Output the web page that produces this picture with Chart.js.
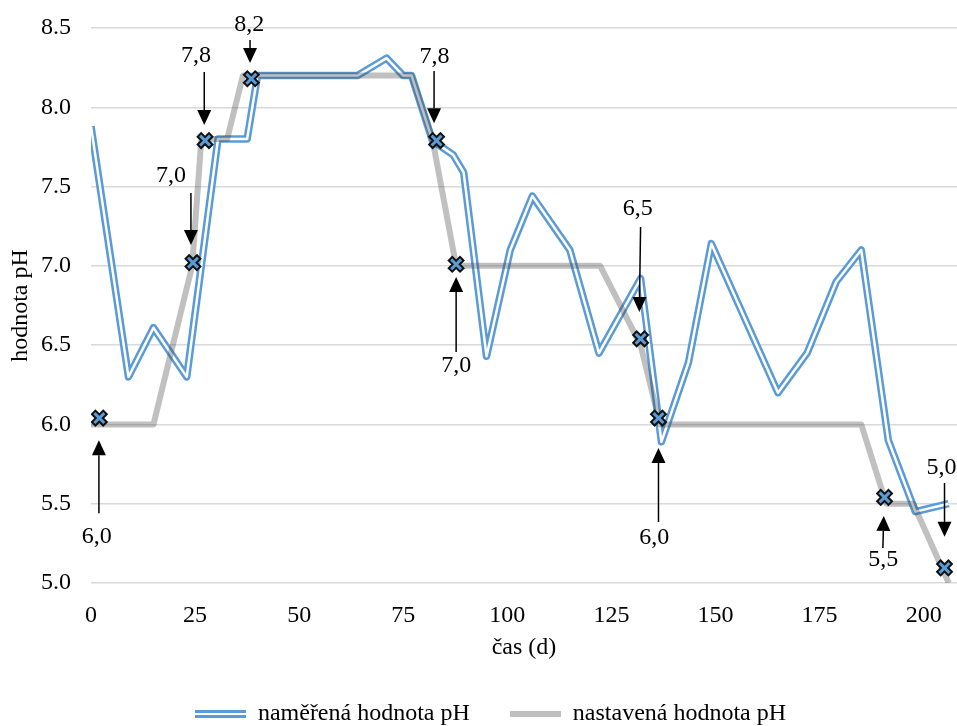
<!DOCTYPE html>
<html>
<head>
<meta charset="utf-8">
<script src="https://cdn.jsdelivr.net/npm/chart.js@4/dist/chart.umd.min.js"></script>
<style>
html,body{margin:0;padding:0;background:#fff;}
#wrap{width:957px;height:726px;}
</style>
</head>
<body>
<div id="wrap"><canvas id="c" width="957" height="726"></canvas></div>
<script>
// ---- data ----
const measuredDays = [0, 9, 15, 23, 30.5, 37.5, 40, 64, 71, 75, 77, 82, 87, 89.5, 95, 100.7, 106, 115, 122, 132, 137, 143.5, 149, 165, 172, 179, 185, 191.5, 198, 206];
const measuredPH   = [7.88, 6.3, 6.61, 6.3, 7.8, 7.8, 8.2, 8.2, 8.31, 8.2, 8.2, 7.79, 7.7, 7.59, 6.43, 7.1, 7.44, 7.1, 6.45, 6.92, 5.89, 6.39, 7.14, 6.2, 6.45, 6.9, 7.1, 5.9, 5.45, 5.5];

const setDays = [0, 15, 24.3, 26.5, 32.7, 36.5, 77, 82, 87.7, 122.3, 132, 136.7, 185, 191, 197.5, 206];
const setPH   = [6.0, 6.0, 7.0, 7.8, 7.8, 8.2, 8.2, 7.8, 7.0, 7.0, 6.5, 6.0, 6.0, 5.5, 5.5, 5.0];

const markerDays = [2, 24.5, 27.4, 38.5, 83, 87.7, 132, 136.3, 190.6, 205];
const markerPH   = [6.04, 7.02, 7.79, 8.18, 7.79, 7.01, 6.54, 6.04, 5.54, 5.095];

const annLabels   = ['6,0', '7,0', '7,8', '8,2', '7,8', '7,0', '6,5', '6,0', '5,5', '5,0'];
const annTailDay  = [1.9, 24.0, 27.2, 38.2, 82.4, 87.7, 132.0, 136.3, 190.2, 205.0];
const annTailPH   = [5.44, 7.46, 8.223, 8.424, 8.229, 6.457, 7.245, 5.385, 5.221, 5.631];
const annTipDay   = [1.9, 24.0, 27.2, 38.2, 82.4, 87.7, 131.7, 136.3, 190.4, 205.0];
const annTipPH    = [5.90, 7.132, 7.888, 8.279, 7.90, 6.930, 6.709, 5.852, 5.423, 5.291];
const annLabelDay = [1.4, 19.2, 25.2, 38.0, 82.5, 87.7, 131.3, 135.3, 190.3, 204.3];
const annLabelPH  = [5.253, 7.529, 8.286, 8.481, 8.28, 6.331, 7.321, 5.247, 5.108, 5.688];

const xTickStep = 25;
const yTickStep = 0.5;
const seriesNames = ['naměřená hodnota pH', 'nastavená hodnota pH'];

// ---- styles ----
const BLUE = '#5B9BD5';
const GRAY = 'rgba(64,64,64,0.33)';
const FONT = '"Liberation Serif", "Times New Roman", serif';

const pts = (xs, ys) => xs.map((x, i) => ({x: x, y: ys[i]}));

function legendSample(kind) {
  const c = document.createElement('canvas');
  c.width = 51; c.height = 8;
  const g = c.getContext('2d');
  if (kind === 'double') {
    g.fillStyle = BLUE; g.fillRect(0, 0, 51, 8);
    g.fillStyle = '#fff'; g.fillRect(0, 3, 51, 2);
  } else {
    g.fillStyle = '#BFBFBF'; g.fillRect(0, 1, 51, 6);
  }
  return c;
}
const blueSample = legendSample('double');
const graySample = legendSample('single');

const arrowPlugin = {
  id: 'phArrows',
  afterDatasetsDraw(chart) {
    const ctx = chart.ctx, xs = chart.scales.x, ys = chart.scales.y;
    ctx.save();
    ctx.fillStyle = '#000';
    ctx.strokeStyle = '#000';
    ctx.lineWidth = 1.5;
    ctx.font = '24px ' + FONT;
    ctx.textAlign = 'center';
    ctx.textBaseline = 'alphabetic';
    for (let i = 0; i < annLabels.length; i++) {
      const x1 = xs.getPixelForValue(annTailDay[i]), y1 = ys.getPixelForValue(annTailPH[i]);
      const x2 = xs.getPixelForValue(annTipDay[i]), y2 = ys.getPixelForValue(annTipPH[i]);
      const ang = Math.atan2(y2 - y1, x2 - x1);
      const headLen = 15, headHalf = 7;
      const bx = x2 - headLen * Math.cos(ang), by = y2 - headLen * Math.sin(ang);
      ctx.beginPath(); ctx.moveTo(x1, y1); ctx.lineTo(bx, by); ctx.stroke();
      ctx.beginPath();
      ctx.moveTo(x2, y2);
      ctx.lineTo(bx + headHalf * Math.sin(ang), by - headHalf * Math.cos(ang));
      ctx.lineTo(bx - headHalf * Math.sin(ang), by + headHalf * Math.cos(ang));
      ctx.closePath(); ctx.fill();
      ctx.fillText(annLabels[i], xs.getPixelForValue(annLabelDay[i]), ys.getPixelForValue(annLabelPH[i]));
    }
    ctx.restore();
  }
};

new Chart(document.getElementById('c'), {
  type: 'line',
  data: {
    datasets: [
      {label: seriesNames[0], data: pts(measuredDays, measuredPH), borderColor: BLUE, borderWidth: 7.5,
       pointRadius: 0, tension: 0, borderJoinStyle: 'round', fill: false, order: 4},
      {label: '_inner', data: pts(measuredDays, measuredPH), borderColor: '#fff', borderWidth: 2.5,
       pointRadius: 0, tension: 0, borderJoinStyle: 'round', fill: false, order: 3},
      {label: seriesNames[1], data: pts(setDays, setPH), borderColor: GRAY, borderWidth: 6,
       pointRadius: 0, tension: 0, borderJoinStyle: 'round', fill: false, order: 2},
      {label: '_markOuter', data: pts(markerDays, markerPH), showLine: false, pointStyle: 'crossRot',
       pointRadius: 9, pointBorderWidth: 7, pointBorderColor: '#111', pointBackgroundColor: '#111', order: 1},
      {label: '_markInner', data: pts(markerDays, markerPH), showLine: false, pointStyle: 'crossRot',
       pointRadius: 7, pointBorderWidth: 3, pointBorderColor: BLUE, pointBackgroundColor: BLUE, order: 0}
    ]
  },
  options: {
    responsive: false,
    animation: false,
    devicePixelRatio: 1,
    layout: {autoPadding: false, padding: {top: 28, left: 24, right: 0, bottom: 0}},
    plugins: {
      tooltip: {enabled: false},
      legend: {
        position: 'bottom',
        maxHeight: 64,
        labels: {
          usePointStyle: true,
          pointStyleWidth: 51,
          padding: 40,
          color: '#000',
          font: {family: FONT, size: 24},
          generateLabels: () => [
            {text: seriesNames[0], pointStyle: blueSample, fillStyle: BLUE, strokeStyle: BLUE, lineWidth: 0, hidden: false, datasetIndex: 0, fontColor: '#000'},
            {text: seriesNames[1], pointStyle: graySample, fillStyle: '#BFBFBF', strokeStyle: '#BFBFBF', lineWidth: 0, hidden: false, datasetIndex: 2, fontColor: '#000'}
          ]
        }
      }
    },
    scales: {
      x: {
        type: 'linear', min: 0, max: 208,
        grid: {display: false},
        border: {display: false},
        ticks: {stepSize: xTickStep, includeBounds: false, color: '#000', padding: 10, maxRotation: 0,
                font: {family: FONT, size: 24}},
        title: {display: true, text: 'čas (d)', color: '#000', font: {family: FONT, size: 24}, padding: {top: 0, bottom: 0}},
        afterFit: (s) => { s.height = 79; s.paddingLeft = 0; s.paddingRight = 0; }
      },
      y: {
        type: 'linear', min: 5, max: 8.5,
        grid: {color: '#D9D9D9', lineWidth: 1.5, drawTicks: false},
        border: {display: false},
        ticks: {stepSize: yTickStep, color: '#000', padding: 20, font: {family: FONT, size: 24},
                callback: (v) => Number(v).toFixed(1)},
        title: {display: true, text: 'hodnota pH', color: '#000', font: {family: FONT, size: 24}, padding: {top: -18, bottom: 0}},
        afterFit: (s) => { s.width = 67; s.paddingTop = 0; s.paddingBottom = 0; }
      }
    }
  },
  plugins: [arrowPlugin]
});
</script>
</body>
</html>
